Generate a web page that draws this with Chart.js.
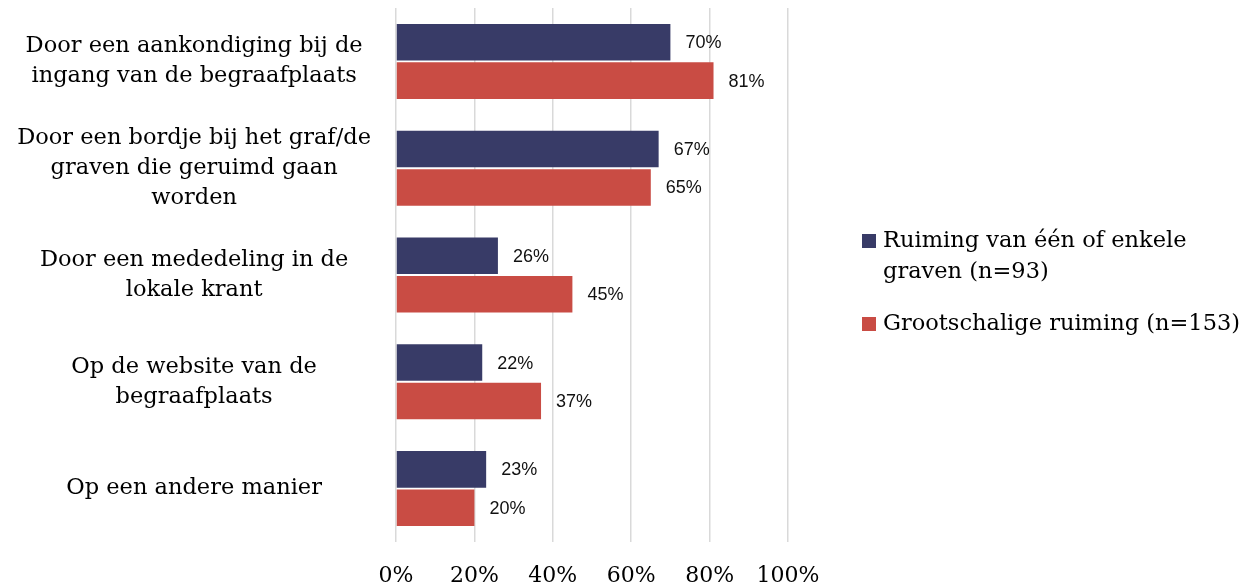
<!DOCTYPE html>
<html>
<head>
<meta charset="utf-8">
<script src="https://cdn.jsdelivr.net/npm/chart.js@4.4.1/dist/chart.umd.min.js"></script>
<style>
html,body{margin:0;padding:0;background:#fff;}
#wrap{width:1257px;height:585px;position:relative;}
</style>
</head>
<body>
<div id="wrap"><canvas id="c" width="1257" height="585"></canvas></div>
<script>
const categories = [
  ['Door een aankondiging bij de', 'ingang van de begraafplaats'],
  ['Door een bordje bij het graf/de', 'graven die geruimd gaan', 'worden'],
  ['Door een mededeling in de', 'lokale krant'],
  ['Op de website van de', 'begraafplaats'],
  ['Op een andere manier']
];
const seriesNames = [
  ['Ruiming van één of enkele', 'graven (n=93)'],
  ['Grootschalige ruiming (n=153)']
];
const seriesSmall = [70, 67, 26, 22, 23];
const seriesLarge = [81, 65, 45, 37, 20];
const xTicks = [0, 20, 40, 60, 80, 100];
const colors = ['#383B67', '#C94C44'];

const SERIF = '"DejaVu Serif", serif';
const SANS = '"Liberation Sans", Arial, sans-serif';

const valueLabels = {
  id: 'valueLabels',
  afterDatasetsDraw(chart) {
    const ctx = chart.ctx;
    ctx.save();
    ctx.font = '18px ' + SANS;
    ctx.fillStyle = '#111';
    ctx.textAlign = 'left';
    ctx.textBaseline = 'middle';
    chart.data.datasets.forEach((ds, di) => {
      const meta = chart.getDatasetMeta(di);
      meta.data.forEach((bar, i) => {
        ctx.fillText(ds.data[i] + '%', bar.x + 15, bar.y + 1);
      });
    });
    ctx.restore();
  }
};

const sideLegend = {
  id: 'sideLegend',
  afterDraw(chart) {
    const ctx = chart.ctx;
    ctx.save();
    ctx.font = '22.5px ' + SERIF;
    ctx.textBaseline = 'alphabetic';
    ctx.textAlign = 'left';
    const x = 862, lineH = 31;
    let y = 247;
    seriesNames.forEach((lines, si) => {
      ctx.fillStyle = colors[si];
      ctx.fillRect(x, y - 13, 14, 14);
      ctx.fillStyle = '#000';
      lines.forEach((ln, li) => ctx.fillText(ln, x + 21, y + li * lineH));
      y += lines.length * lineH + 21;
    });
    ctx.restore();
  }
};

new Chart(document.getElementById('c'), {
  type: 'bar',
  data: {
    labels: categories,
    datasets: [
      { label: seriesNames[0].join(' '), data: seriesSmall, backgroundColor: colors[0] },
      { label: seriesNames[1].join(' '), data: seriesLarge, backgroundColor: colors[1] }
    ]
  },
  options: {
    indexAxis: 'y',
    responsive: false,
    animation: false,
    devicePixelRatio: 1,
    layout: { padding: { top: 8, right: 469, left: 0, bottom: 0 } },
    datasets: { bar: { categoryPercentage: 0.72, barPercentage: 0.95 } },
    plugins: { legend: { display: false }, tooltip: { enabled: false } },
    scales: {
      x: {
        min: 0, max: 100,
        afterBuildTicks(s) { s.ticks = xTicks.map(v => ({ value: v })); },
        afterFit(s) { s.height = 43; s.paddingLeft = 0; s.paddingRight = 0; },
        ticks: { callback: v => v + '%', font: { family: SERIF, size: 22 }, color: '#000', padding: 21, maxRotation: 0 },
        grid: { color: '#d9d9d9', lineWidth: 1.5, drawTicks: false },
        border: { display: false }
      },
      y: {
        afterFit(s) { s.width = 396; s.paddingTop = 0; s.paddingBottom = 0; },
        ticks: { font: { family: SERIF, size: 22.5, lineHeight: 1.33 }, color: '#000', crossAlign: 'center', padding: 25 },
        grid: { display: false, drawTicks: false },
        border: { display: false }
      }
    }
  },
  plugins: [valueLabels, sideLegend]
});
</script>
</body>
</html>
